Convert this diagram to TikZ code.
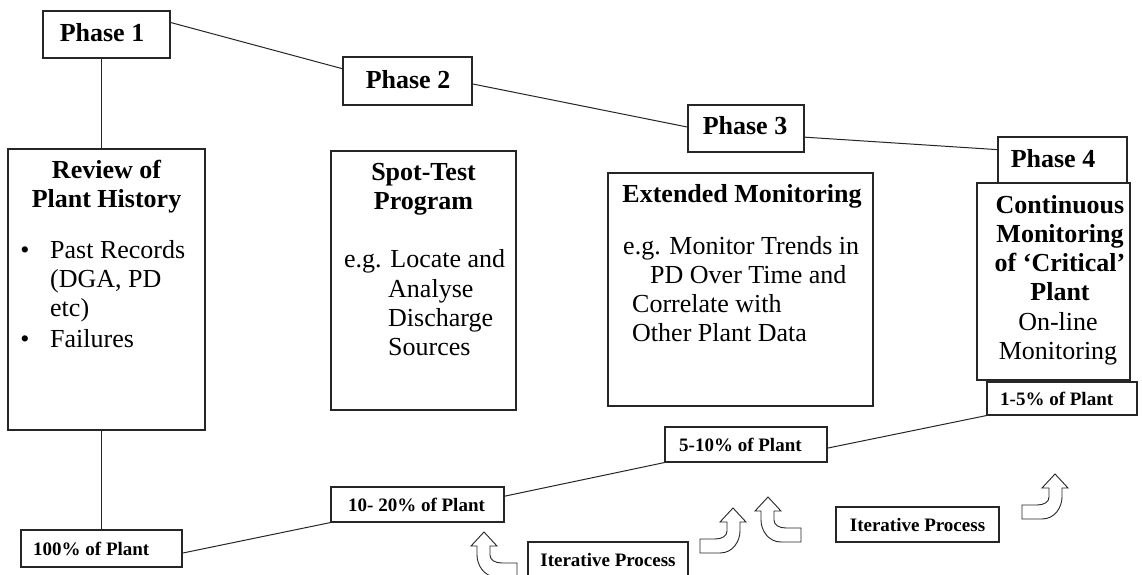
\documentclass[tikz,border=0pt]{standalone}
\usepackage{fontspec}
\setmainfont{Liberation Serif}
\usetikzlibrary{calc}

\begin{document}
\begin{tikzpicture}[x=1pt, y=-1pt,
  box/.style={draw=black!85, line width=1.1pt, fill=white, inner sep=0pt},
  conn/.style={draw=black!85, line width=1pt},
  head/.style={font=\fontsize{26}{30}\selectfont\bfseries, inner sep=0pt},
  body/.style={font=\fontsize{26}{30}\selectfont, inner sep=0pt},
  tag/.style={font=\fontsize{19}{22}\selectfont\bfseries, inner sep=0pt},
  blockarrow/.style={draw=black!85, line width=0.9pt, fill=white},
  turnarrow/.pic={
    \path[blockarrow] (0,0) -- (20,0)
      .. controls (33,0) and (40,-12) .. (40,-22) -- (40,-31) -- (46,-31)
      -- (33,-45) -- (20,-31) -- (27,-31) -- (27,-22)
      .. controls (27,-17) and (22,-14) .. (15,-14) -- (0,-14) -- cycle;
  }
]
\useasboundingbox (0,0) rectangle (1142,575);
\fill[white] (0,0) rectangle (1142,575);

% ---- phase boxes along the top ----
\node[box, minimum width=127, minimum height=47] (ph1) at (106.5,34.5) {};
\node[box, minimum width=129, minimum height=48] (ph2) at (407.5,81) {};
\node[box, minimum width=116, minimum height=47] (ph3) at (746,128.5) {};
\node[head, anchor=base] (ph1t) at (102,42) {Phase 1};
\node[head, anchor=base] (ph2t) at (408,89) {Phase 2};
\node[head, anchor=base] (ph3t) at (745,135) {Phase 3};

% ---- activity boxes ----
\node[box, minimum width=197, minimum height=281] (rev) at (106.5,289.5) {};
\node[box, minimum width=185, minimum height=259] (spot) at (423.5,280.5) {};
\node[box, minimum width=265, minimum height=233] (ext) at (740.5,289.5) {};
\node[box, minimum width=153, minimum height=197] (cont) at (1053.5,281.5) {};
\node[box, minimum width=129, minimum height=46] (ph4) at (1062.5,160) {};
\node[head, anchor=base] (ph4t) at (1053,167) {Phase 4};

% ---- plant share boxes ----
\node[box, minimum width=161, minimum height=37] (p100) at (101.5,548.5) {};
\node[box, minimum width=173, minimum height=35] (p1020) at (417.5,504.5) {};
\node[box, minimum width=162, minimum height=35] (p510) at (746,444.5) {};
\node[box, minimum width=150, minimum height=33] (p15) at (1062,398.5) {};
\node[box, minimum width=160, minimum height=35] (it1) at (608,559.5) {};
\node[box, minimum width=163, minimum height=35] (it2) at (917.5,524.5) {};

\node[tag, anchor=base west] (p100t) at (33,555) {100\% of Plant};
\node[tag, anchor=base west] (p1020t) at (348,511) {10- 20\% of Plant};
\node[tag, anchor=base west] (p510t) at (679,451) {5-10\% of Plant};
\node[tag, anchor=base west] (p15t) at (1000,405) {1-5\% of Plant};
\node[tag, anchor=base] (it1t) at (608,566) {Iterative Process};
\node[tag, anchor=base] (it2t) at (917.5,531) {Iterative Process};

% ---- text of the review box ----
\node[head, anchor=base] (rev1) at (106.5,178) {Review of};
\node[head, anchor=base] (rev2) at (106.5,207) {Plant History};
\node[body, anchor=base] (bul1) at (25,258) {•};
\node[body, anchor=base] (bul2) at (25,347) {•};
\node[body, anchor=base west] (rev3) at (50,258) {Past Records};
\node[body, anchor=base west] (rev4) at (50,287) {(DGA, PD};
\node[body, anchor=base west] (rev5) at (50,316) {etc)};
\node[body, anchor=base west] (rev6) at (50,347) {Failures};

% ---- text of the spot-test box ----
\node[head, anchor=base] (spot1) at (423.5,180) {Spot-Test};
\node[head, anchor=base] (spot2) at (423.5,209) {Program};
\node[body, anchor=base west] (spot3) at (344,267) {e.g. Locate and};
\node[body, anchor=base west] (spot4) at (388,297) {Analyse};
\node[body, anchor=base west] (spot5) at (388,326) {Discharge};
\node[body, anchor=base west] (spot6) at (388,355) {Sources};

% ---- text of the extended monitoring box ----
\node[head, anchor=base] (ext1) at (742,202) {Extended Monitoring};
\node[body, anchor=base west] (ext2) at (623,254) {e.g. Monitor Trends in};
\node[body, anchor=base west] (ext3) at (650,283) {PD Over Time and};
\node[body, anchor=base west] (ext4) at (632,312) {Correlate with};
\node[body, anchor=base west] (ext5) at (632,341) {Other Plant Data};

% ---- text of the continuous monitoring box ----
\node[head, anchor=base] (cont1) at (1060,213) {Continuous};
\node[head, anchor=base] (cont2) at (1060,242) {Monitoring};
\node[head, anchor=base] (cont3) at (1060,271) {of ‘Critical’};
\node[head, anchor=base] (cont4) at (1060,300) {Plant};
\node[body, anchor=base] (cont5) at (1058,330) {On-line};
\node[body, anchor=base] (cont6) at (1058,359) {Monitoring};

% ---- connectors ----
\draw[conn] ($(ph1.north east)!0.25!(ph1.south east)$) -- ($(ph2.north west)!0.25!(ph2.south west)$);
\draw[conn] ($(ph2.north east)!0.56!(ph2.south east)$) -- ($(ph3.north west)!0.47!(ph3.south west)$);
\draw[conn] ($(ph3.north east)!0.68!(ph3.south east)$) -- ($(ph4.north west)!0.28!(ph4.south west)$);
\draw[conn] (ph1.south -| p100.north) -- (rev.north -| p100.north);
\draw[conn] (rev.south -| p100.north) -- (p100.north);
\draw[conn] ($(p100.north east)!0.62!(p100.south east)$) -- (p1020.south west);
\draw[conn] ($(p1020.north east)!0.27!(p1020.south east)$) -- (p510.south west);
\draw[conn] ($(p510.north east)!0.6!(p510.south east)$) -- (p15.south west);

% ---- iteration arrows ----
\pic[xscale=-1] at (517,577) {turnarrow};
\pic at (700,553) {turnarrow};
\pic[xscale=-1] at (801,542) {turnarrow};
\pic at (1022,519) {turnarrow};
\end{tikzpicture}
\end{document}
